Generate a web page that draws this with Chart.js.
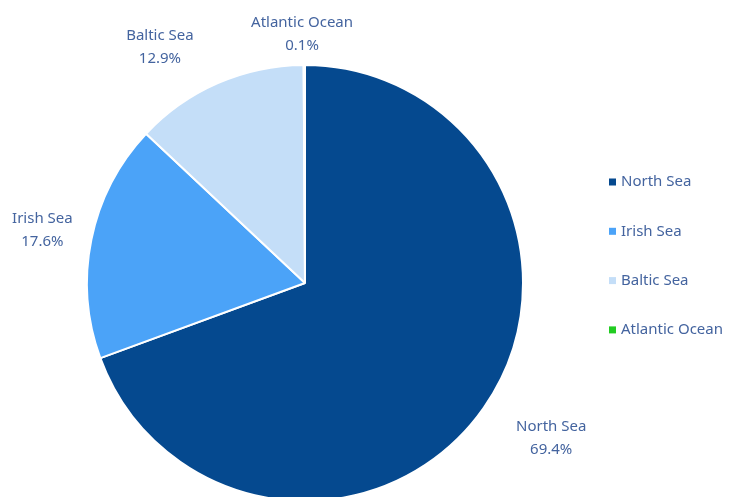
<!DOCTYPE html>
<html>
<head>
<meta charset="utf-8">
<script src="https://cdn.jsdelivr.net/npm/chart.js@4/dist/chart.umd.min.js"></script>
<style>
  html, body { margin: 0; padding: 0; background: #fff; overflow: hidden; }
  #wrap { width: 730px; height: 497px; overflow: hidden; }
  #box { width: 730px; height: 510px; }
</style>
</head>
<body>
<div id="wrap"><div id="box"><canvas id="pieChart"></canvas></div></div>
<script>
// data
const seas = ["North Sea", "Irish Sea", "Baltic Sea", "Atlantic Ocean"];
const shares = [69.4, 17.6, 12.9, 0.1];
const sliceColors = ["#05498F", "#4BA3F8", "#C4DEF8", "#22CC22"];

// label placement: radial distance from centre and small angle nudge (degrees)
const labelPlace = [
    { dist: 291, nudge: -2.7 },
    { dist: 268, nudge: 0 },
    { dist: 277, nudge: -8 },
    { dist: 249, nudge: -0.5 }
];

const textColor = "#44649F";
const font = "15px 'Noto Sans', sans-serif";

const labelsPlugin = {
    id: "outsideLabels",
    afterDraw(chart) {
        const ctx = chart.ctx;
        const arcs = chart.getDatasetMeta(0).data;
        ctx.save();
        ctx.font = font;
        ctx.fillStyle = textColor;
        ctx.textAlign = "center";
        ctx.textBaseline = "middle";
        arcs.forEach((arc, i) => {
            const mid = (arc.startAngle + arc.endAngle) / 2 + labelPlace[i].nudge * Math.PI / 180;
            const x = arc.x + Math.cos(mid) * labelPlace[i].dist;
            const y = arc.y + Math.sin(mid) * labelPlace[i].dist;
            ctx.fillText(seas[i], x, y - 11);
            ctx.fillText(shares[i].toFixed(1) + "%", x, y + 12);
        });

        // legend on the right
        const lx = 609, ly = 182, step = 49.3;
        ctx.textAlign = "left";
        seas.forEach((name, i) => {
            const y = ly + i * step;
            ctx.fillStyle = sliceColors[i];
            ctx.fillRect(lx, y - 3.5, 7, 7);
            ctx.fillStyle = textColor;
            ctx.fillText(name, lx + 12, y);
        });
        ctx.restore();
    }
};

const ctx = document.getElementById("pieChart").getContext("2d");
new Chart(ctx, {
    type: "pie",
    data: {
        labels: seas,
        datasets: [{
            data: shares,
            backgroundColor: sliceColors,
            borderColor: "#ffffff",
            borderWidth: 2
        }]
    },
    options: {
        responsive: true,
        maintainAspectRatio: false,
        animation: false,
        radius: 218,
        layout: {
            padding: { left: 87, right: 207, top: 65, bottom: 9 }
        },
        plugins: {
            legend: { display: false },
            tooltip: { enabled: false }
        }
    },
    plugins: [labelsPlugin]
});
</script>
</body>
</html>
